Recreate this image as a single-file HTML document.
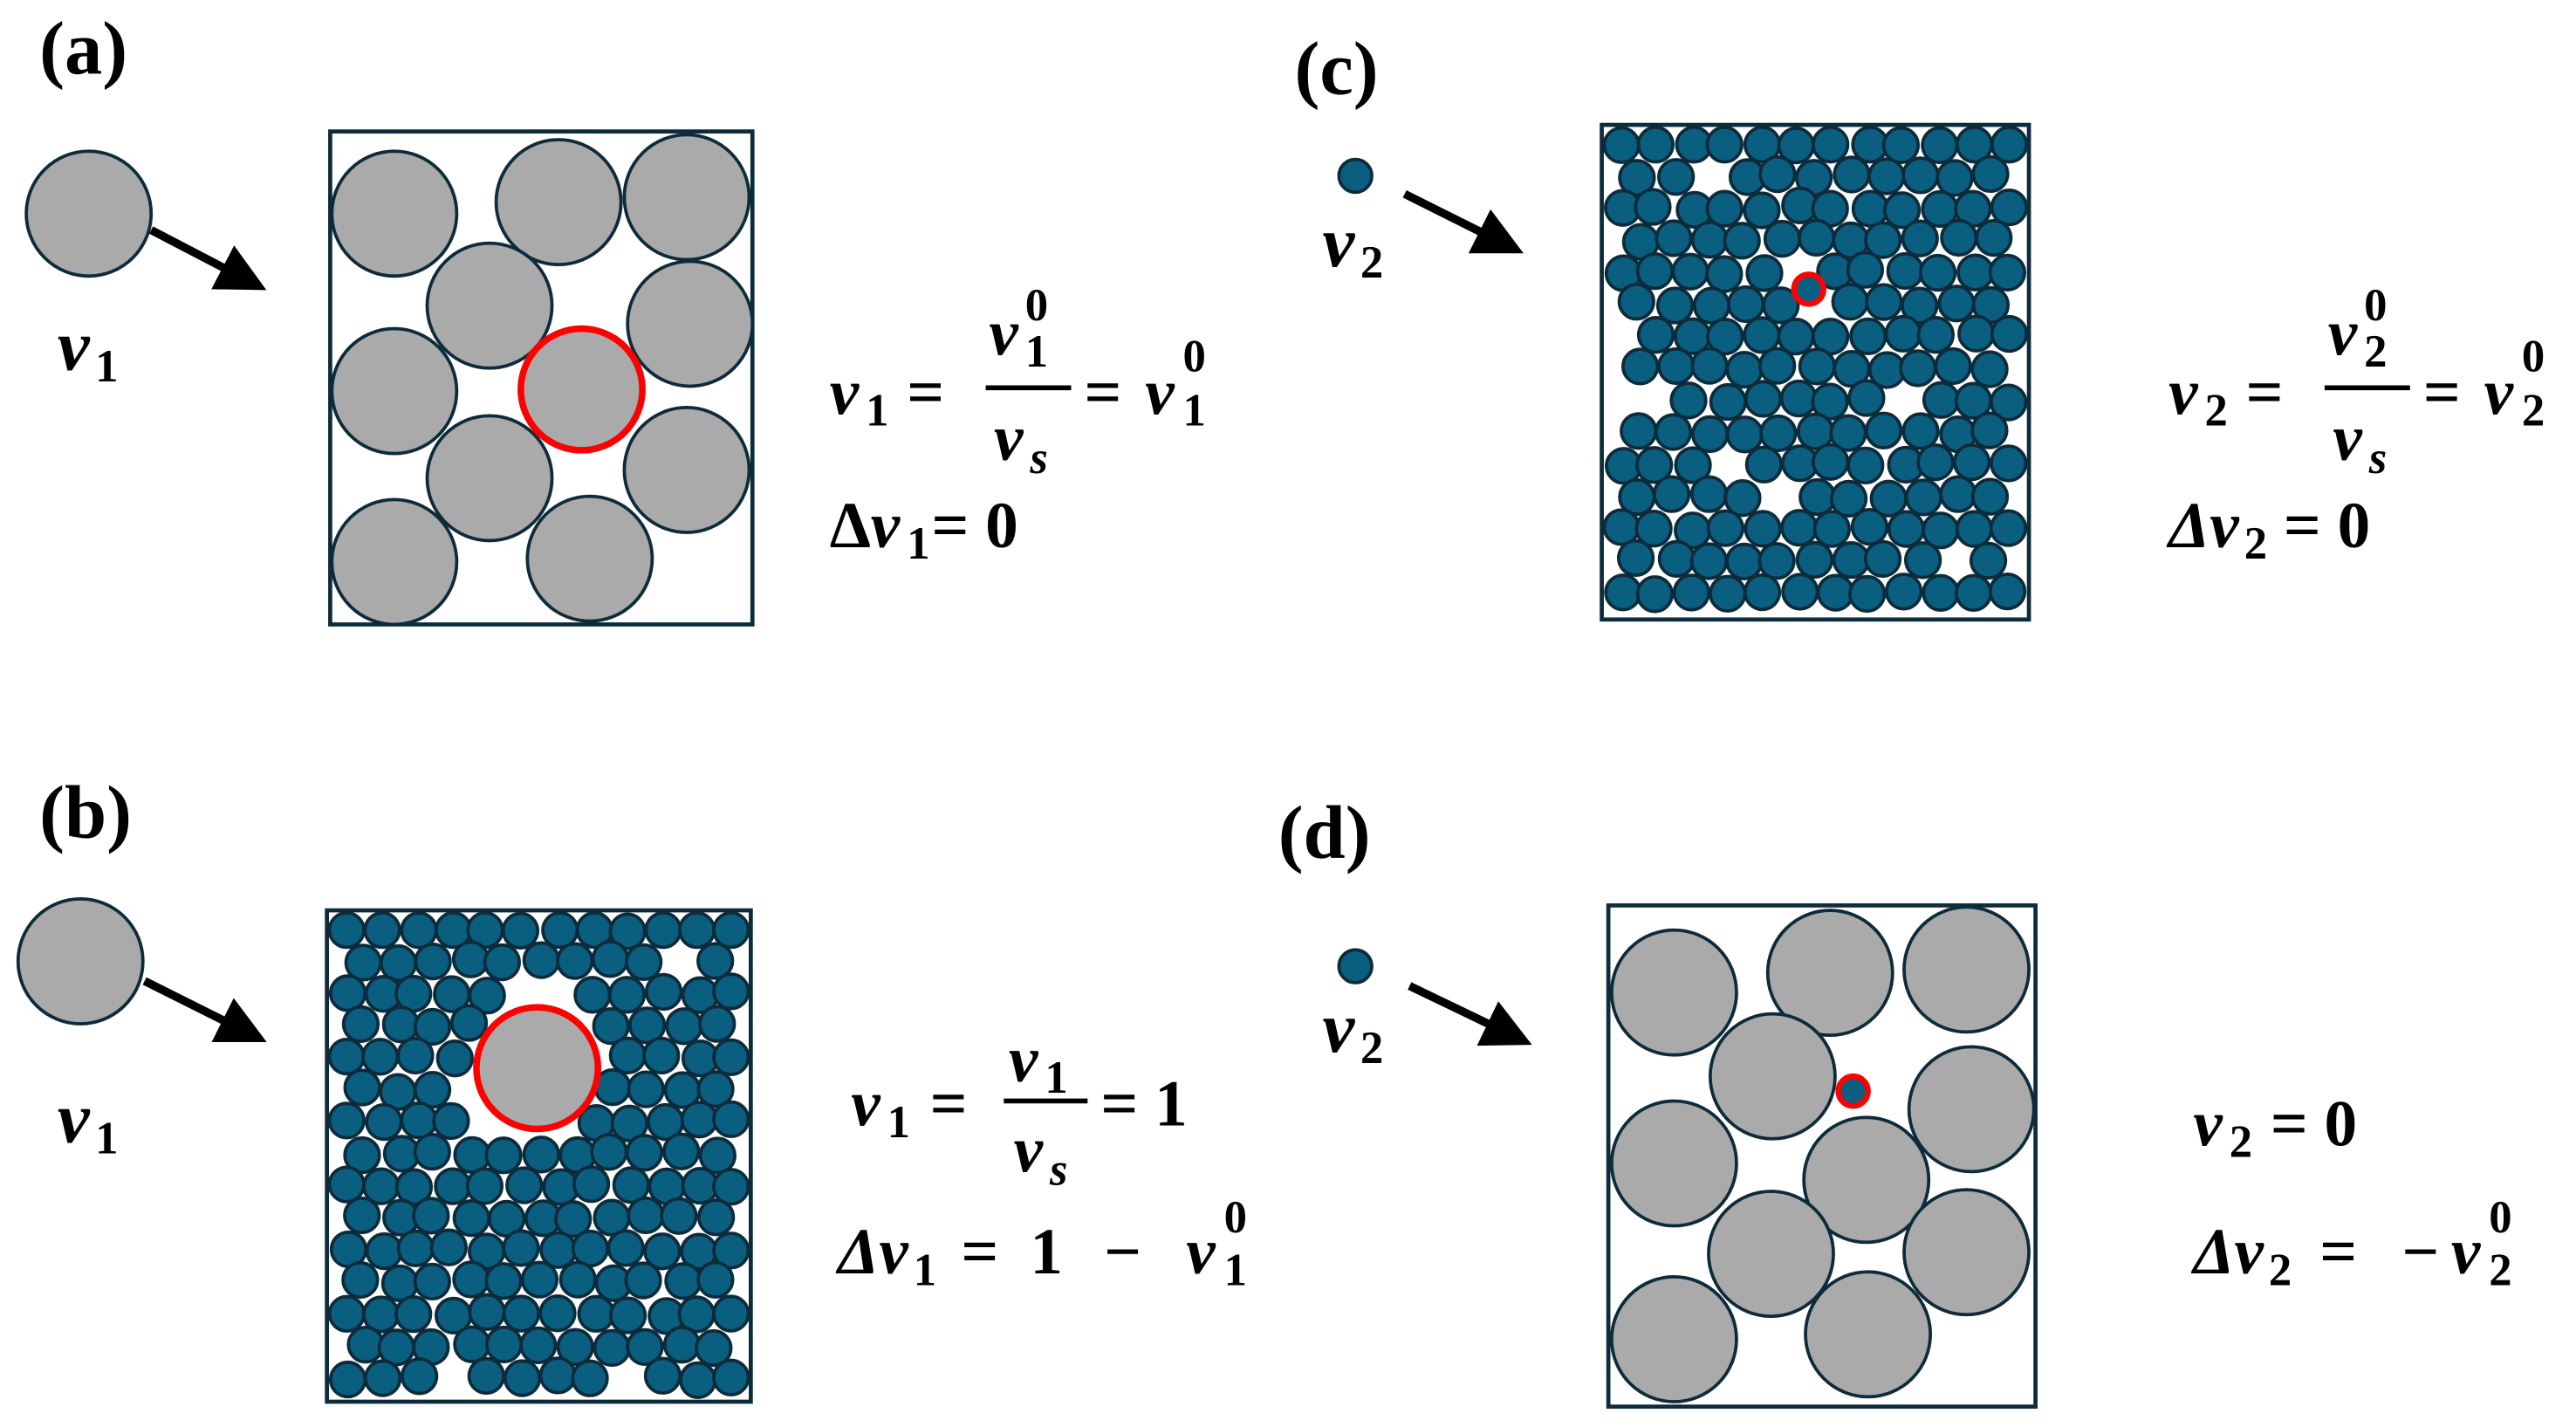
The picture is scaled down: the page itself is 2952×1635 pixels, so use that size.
<!DOCTYPE html>
<html><head><meta charset="utf-8"><style>
html,body{margin:0;padding:0;background:#fff;}
svg{display:block;}
text{font-family:"Liberation Serif",serif;font-weight:bold;fill:#000;}
.m{font-style:italic;}
.big{fill:#aaaaaa;stroke:#0d2b3a;stroke-width:2;}
.sm{fill:#0a5f80;stroke:#0d2b3a;stroke-width:2;}
.box{fill:#fff;stroke:#0d2b3a;stroke-width:2.5;}
</style></head><body>
<svg id="s" width="2952" height="1635" viewBox="0 0 1568 868.4" preserveAspectRatio="none" xmlns="http://www.w3.org/2000/svg">
<defs><marker id="ah" markerWidth="6" markerHeight="6" refX="1" refY="3" orient="auto" markerUnits="strokeWidth"><path d="M0,0 L6,3 L0,6 z" fill="#000"/></marker></defs>
<!-- (a) -->
<text x="24" y="45" font-size="46">(a)</text>
<circle class="big" cx="54" cy="130" r="38"/>
<line x1="92" y1="140" x2="140" y2="165" stroke="#000" stroke-width="5" marker-end="url(#ah)"/>
<text class="m" x="35" y="225" font-size="44">v</text><text x="58" y="232" font-size="28">1</text>
<rect class="box" x="201" y="80" width="257" height="300"/>
<circle class="big" cx="240" cy="130" r="38"/><circle class="big" cx="340" cy="123" r="38"/><circle class="big" cx="418" cy="120" r="38"/>
<circle class="big" cx="298" cy="186" r="38"/><circle class="big" cx="420" cy="197" r="38"/><circle class="big" cx="240" cy="238" r="38"/>
<circle class="big" cx="298" cy="291" r="38"/><circle class="big" cx="418" cy="286" r="38"/><circle class="big" cx="240" cy="342" r="38"/><circle class="big" cx="359" cy="340" r="38"/>
<circle cx="354" cy="237" r="37" fill="#aaa" stroke="#f00" stroke-width="4"/>
<text class="m" x="505" y="252" font-size="40">v</text><text x="527" y="259" font-size="28">1</text><text x="552" y="252" font-size="40">=</text>
<text class="m" x="602" y="216" font-size="40">v</text><text x="624" y="223" font-size="28">1</text><text x="624" y="195" font-size="28">0</text>
<line x1="600" y1="236" x2="652" y2="236" stroke="#000" stroke-width="3"/>
<text class="m" x="605" y="280" font-size="40">v</text><text class="m" x="627" y="288" font-size="28">s</text>
<text x="660" y="252" font-size="40">=</text>
<text class="m" x="697" y="252" font-size="40">v</text><text x="720" y="259" font-size="28">1</text><text x="720" y="226" font-size="28">0</text>
<text x="505" y="333" font-size="40">Δ</text><text class="m" x="530" y="333" font-size="40">v</text><text x="552" y="340" font-size="28">1</text><text x="567" y="333" font-size="40">= 0</text>

<!-- (b) -->
<text x="24" y="510" font-size="46">(b)</text>
<circle class="big" cx="49" cy="585" r="38"/>
<line x1="88" y1="597" x2="140" y2="623" stroke="#000" stroke-width="5" marker-end="url(#ah)"/>
<text class="m" x="35" y="695" font-size="44">v</text><text x="58" y="702" font-size="28">1</text>
<rect class="box" x="199" y="554" width="258" height="299"/>
<g id="gb"></g>
<circle cx="327" cy="650" r="37" fill="#aaa" stroke="#f00" stroke-width="4"/>
<text class="m" x="518" y="685" font-size="40">v</text><text x="540" y="692" font-size="28">1</text><text x="566" y="685" font-size="40">=</text>
<text class="m" x="614" y="658" font-size="40">v</text><text x="636" y="665" font-size="28">1</text>
<line x1="611" y1="670" x2="662" y2="670" stroke="#000" stroke-width="3"/>
<text class="m" x="617" y="713" font-size="40">v</text><text class="m" x="639" y="721" font-size="28">s</text>
<text x="670" y="685" font-size="40">= 1</text>
<text class="m" x="510" y="775" font-size="40">Δv</text><text x="556" y="782" font-size="28">1</text>
<text x="585" y="775" font-size="40">=</text><text x="627" y="775" font-size="40">1</text><text x="672" y="775" font-size="40">−</text>
<text class="m" x="722" y="775" font-size="40">v</text><text x="745" y="782" font-size="28">1</text><text x="745" y="750" font-size="28">0</text>

<!-- (c) -->
<text x="788" y="57" font-size="46">(c)</text>
<circle class="sm" cx="825" cy="107" r="10"/>
<line x1="855" y1="118" x2="905" y2="143" stroke="#000" stroke-width="5" marker-end="url(#ah)"/>
<text class="m" x="805" y="162" font-size="44">v</text><text x="828" y="169" font-size="28">2</text>
<rect class="box" x="975" y="76" width="260" height="301"/>
<g id="gc"></g>
<circle cx="1101" cy="176" r="9" fill="#0a5f80" stroke="#f00" stroke-width="3.5"/>
<text class="m" x="1320" y="252" font-size="40">v</text><text x="1342" y="259" font-size="28">2</text><text x="1367" y="252" font-size="40">=</text>
<text class="m" x="1417" y="216" font-size="40">v</text><text x="1439" y="223" font-size="28">2</text><text x="1439" y="195" font-size="28">0</text>
<line x1="1415" y1="236" x2="1467" y2="236" stroke="#000" stroke-width="3"/>
<text class="m" x="1420" y="280" font-size="40">v</text><text class="m" x="1442" y="288" font-size="28">s</text>
<text x="1475" y="252" font-size="40">=</text>
<text class="m" x="1512" y="252" font-size="40">v</text><text x="1535" y="259" font-size="28">2</text><text x="1535" y="226" font-size="28">0</text>
<text class="m" x="1320" y="333" font-size="40">Δv</text><text x="1366" y="340" font-size="28">2</text><text x="1390" y="333" font-size="40">= 0</text>

<!-- (d) -->
<text x="778" y="522" font-size="46">(d)</text>
<circle class="sm" cx="825" cy="588" r="10"/>
<line x1="858" y1="600" x2="910" y2="625" stroke="#000" stroke-width="5" marker-end="url(#ah)"/>
<text class="m" x="805" y="640" font-size="44">v</text><text x="828" y="647" font-size="28">2</text>
<rect class="box" x="979" y="551" width="260" height="305"/>
<circle class="big" cx="1019" cy="604" r="38"/><circle class="big" cx="1114" cy="592" r="38"/><circle class="big" cx="1197" cy="590" r="38"/>
<circle class="big" cx="1079" cy="655" r="38"/><circle class="big" cx="1200" cy="675" r="38"/><circle class="big" cx="1019" cy="708" r="38"/>
<circle class="big" cx="1136" cy="718" r="38"/><circle class="big" cx="1078" cy="763" r="38"/><circle class="big" cx="1197" cy="762" r="38"/>
<circle class="big" cx="1019" cy="815" r="38"/><circle class="big" cx="1137" cy="812" r="38"/>
<circle cx="1128" cy="664" r="9" fill="#0a5f80" stroke="#f00" stroke-width="3.5"/>
<text class="m" x="1335" y="697" font-size="40">v</text><text x="1357" y="704" font-size="28">2</text><text x="1382" y="697" font-size="40">= 0</text>
<text class="m" x="1335" y="775" font-size="40">Δv</text><text x="1381" y="782" font-size="28">2</text>
<text x="1412" y="775" font-size="40">=</text><text x="1462" y="775" font-size="40">−</text>
<text class="m" x="1492" y="775" font-size="40">v</text><text x="1515" y="782" font-size="28">2</text><text x="1515" y="750" font-size="28">0</text>
</svg>
<script>
(function(){
  var NS="http://www.w3.org/2000/svg";
  var seed=12345;
  function rnd(){seed=(seed*1103515245+12345)%2147483648;return seed/2147483648;}
  function fill(id,x0,y0,w,h,ex){
    var g=document.getElementById(id);
    var r=10.5, dx=21.5, dy=19.5, row=0;
    for(var y=y0+r+1;y<=y0+h-r+3;y+=dy,row++){
      var off=(row%2)?dx/2:0;
      for(var x=x0+r+1+off;x<=x0+w-r+3;x+=dx){
        if(rnd()<0.03) continue;
        var cx=x+(rnd()-0.5)*4, cy=y+(rnd()-0.5)*3;
        cx=Math.max(x0+r+1.5,Math.min(x0+w-r-1.5,cx));
        cy=Math.max(y0+r+1.5,Math.min(y0+h-r-1.5,cy));
        if(ex){var ddx=cx-ex[0],ddy=cy-ex[1];if(Math.sqrt(ddx*ddx+ddy*ddy)<ex[2]+r-2)continue;}
        var c=document.createElementNS(NS,"circle");
        c.setAttribute("cx",cx.toFixed(1));c.setAttribute("cy",cy.toFixed(1));
        c.setAttribute("r",r);c.setAttribute("class","sm");g.appendChild(c);
      }
    }
  }
  fill("gb",199,554,258,299,[327,650,38]);
  fill("gc",975,76,260,301,[1101,176,9]);
})();
</script>
</body></html>
